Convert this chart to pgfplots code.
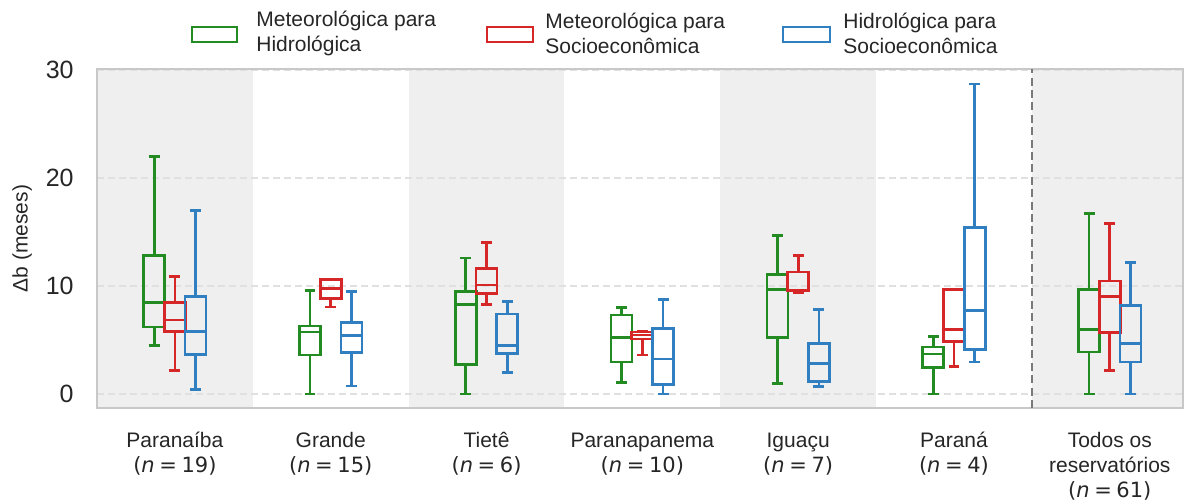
\documentclass[border=0pt]{standalone}
\usepackage{fontspec}
\setmainfont{Liberation Sans}
\newfontfamily\dejavu{DejaVu Sans}
\usepackage{pgfplots}
\pgfplotsset{compat=1.18}
\usepgfplotslibrary{statistics}

\definecolor{cgreen}{HTML}{228B22}
\definecolor{cred}{HTML}{D62728}
\definecolor{cblue}{HTML}{2F7FC1}
\definecolor{band}{HTML}{EFEFEF}
\definecolor{framec}{HTML}{C8C8C8}
\definecolor{gridc}{HTML}{E0E0E0}
\definecolor{txt}{HTML}{262626}

% one box: colour, position, lower whisker, lower quartile, median, upper quartile, upper whisker
\newcommand{\bx}[7]{%
  \addplot[#1, line width=1.35pt, solid, boxplot/draw direction=y,
    boxplot prepared={draw position=#2,
    lower whisker=#3, lower quartile=#4, median=#5, upper quartile=#6,
    upper whisker=#7, box extend=0.135, whisker extend=0.07}] coordinates {};}
% sample size set like matplotlib mathtext
\newcommand{\nn}[1]{{\dejavu(\textit{n}\hspace{0.22em}=\hspace{0.22em}#1)}}
\newcommand{\st}{\rule{0pt}{9pt}}

\begin{document}
\begin{tikzpicture}
\begin{axis}[
  at={(0pt,0pt)}, anchor=south west,
  scale only axis, width=543pt, height=169.5pt,
  xmin=-0.5, xmax=6.47, ymin=-1.3, ymax=30.1,
  set layers,
  xtick={0,1,2,3,4,5,6},
  xticklabels={
    {\st Paranaíba\\\nn{19}},
    {\st Grande\\\nn{15}},
    {\st Tietê\\\nn{6}},
    {\st Paranapanema\\\nn{10}},
    {\st Iguaçu\\\nn{7}},
    {\st Paraná\\\nn{4}},
    {\st Todos os\\reservatórios\\\nn{61}}},
  ytick={0,10,20,30},
  yticklabels={0,10,20,30},
  major tick length=0pt,
  axis line style={draw=framec, line width=1.2pt},
  ymajorgrids,
  major grid style={draw=gridc, line width=0.6pt, dash pattern=on 3.5pt off 2pt},
  xticklabel style={align=center, anchor=north, inner sep=0pt, yshift=-10.5pt,
    font=\fontsize{10.5}{12.6}\selectfont, text=txt},
  yticklabel style={anchor=east, inner sep=0pt, xshift=-11.5pt,
    font=\fontsize{12.5}{15}\selectfont, text=txt},
  ylabel={Δb (meses)},
  ylabel style={at={(axis description cs:-0.069,0.5)}, anchor=center,
    font=\fontsize{10.5}{12.75}\selectfont, text=txt},
]
\begin{pgfonlayer}{axis background}
  \fill[band] (axis cs:-0.5,-1.3) rectangle (axis cs:0.5,30.1);
  \fill[band] (axis cs:1.5,-1.3) rectangle (axis cs:2.5,30.1);
  \fill[band] (axis cs:3.5,-1.3) rectangle (axis cs:4.5,30.1);
  \fill[band] (axis cs:5.5,-1.3) rectangle (axis cs:6.47,30.1);
\end{pgfonlayer}

% Paranaiba
\bx{cgreen}{-0.133}{4.5}{6.2}{8.5}{12.8}{22.0}
\bx{cred}{0}{2.2}{5.8}{6.85}{8.5}{10.9}
\bx{cblue}{0.133}{0.4}{3.65}{5.8}{9.0}{17.0}
% Grande
\bx{cgreen}{0.867}{0}{3.6}{5.75}{6.3}{9.6}
\bx{cred}{1}{8.05}{8.85}{9.8}{10.6}{10.6}
\bx{cblue}{1.133}{0.75}{3.85}{5.4}{6.65}{9.5}
% Tiete
\bx{cgreen}{1.867}{0}{2.7}{8.3}{9.5}{12.6}
\bx{cred}{2}{8.3}{9.3}{10.1}{11.6}{14.0}
\bx{cblue}{2.133}{2.0}{3.75}{4.5}{7.4}{8.55}
% Paranapanema
\bx{cgreen}{2.867}{1.05}{2.95}{5.25}{7.3}{8.0}
\bx{cred}{3}{3.6}{5.1}{5.45}{5.75}{5.8}
\bx{cblue}{3.133}{0}{0.85}{3.25}{6.05}{8.75}
% Iguacu
\bx{cgreen}{3.867}{1.0}{5.25}{9.65}{11.05}{14.7}
\bx{cred}{4}{9.4}{9.55}{9.6}{11.3}{12.85}
\bx{cblue}{4.133}{0.7}{1.15}{2.8}{4.7}{7.85}
% Parana
\bx{cgreen}{4.867}{0}{2.45}{3.7}{4.35}{5.35}
\bx{cred}{5}{2.55}{4.85}{5.95}{9.65}{9.65}
\bx{cblue}{5.133}{2.95}{4.1}{7.75}{15.45}{28.7}
% all reservoirs
\bx{cgreen}{5.867}{0}{3.9}{6.0}{9.65}{16.7}
\bx{cred}{6}{2.2}{5.7}{9.0}{10.45}{15.8}
\bx{cblue}{6.133}{0}{2.95}{4.65}{8.2}{12.15}

\draw[gray!95!black, line width=1.1pt, dash pattern=on 4pt off 2.2pt]
  (axis cs:5.5,-1.3) -- (axis cs:5.5,30.1);
\end{axis}

% legend
\begin{scope}[every node/.style={anchor=west, inner sep=0pt, align=left,
    font=\fontsize{10.5}{12.5}\selectfont, text=txt}]
  \draw[cgreen, line width=1.1pt] (47.5pt,183pt) rectangle (70pt,190.5pt);
  \node at (79.5pt,187.2pt) {Meteorológica para\\Hidrológica};
  \draw[cred, line width=1.1pt] (195pt,183pt) rectangle (218pt,190.5pt);
  \node at (224pt,187.2pt) {Meteorológica para\\Socioeconômica};
  \draw[cblue, line width=1.1pt] (343pt,183pt) rectangle (366.5pt,190.5pt);
  \node at (373pt,187.2pt) {Hidrológica para\\Socioeconômica};
\end{scope}

\pgfresetboundingbox
\path[use as bounding box] (-48.5pt,-47pt) rectangle (545pt,204pt);
\end{tikzpicture}
\end{document}
